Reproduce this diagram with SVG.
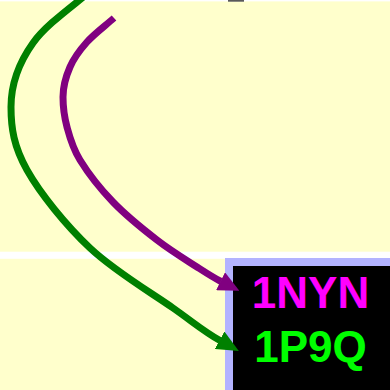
<svg xmlns="http://www.w3.org/2000/svg" width="390" height="390" viewBox="0 0 390 390">
  <style>
    .band { fill: #ffffcc; }
    .link { fill: none; stroke-width: 7; stroke-linecap: butt; stroke-linejoin: round; }
    .label { font-family: "Liberation Sans", Arial, sans-serif; font-weight: bold; font-size: 44px; text-anchor: middle; }
  </style>
  <defs>
    <marker id="head-purple" viewBox="0 0 21 20" markerWidth="21" markerHeight="20" refX="0.5" refY="10" orient="auto" markerUnits="userSpaceOnUse">
      <path d="M0,0 L21,10 L0,20 z" fill="#800080"/>
    </marker>
    <marker id="head-green" viewBox="0 0 22 20" markerWidth="22" markerHeight="20" refX="0.5" refY="10" orient="auto" markerUnits="userSpaceOnUse">
      <path d="M0,0 L22,10 L0,20 z" fill="#008000"/>
    </marker>
  </defs>

  <!-- page background and bands -->
  <rect x="0" y="0" width="390" height="390" fill="#ffffff"/>
  <rect class="band" x="0" y="1.4" width="390" height="250.3"/>
  <rect class="band" x="0" y="258.8" width="390" height="131.2"/>
  <rect x="228" y="0" width="16" height="1.7" fill="#595959"/>

  <!-- target node -->
  <g id="node-target">
    <rect x="229" y="262" width="170" height="140" fill="#000000" stroke="#b3b3ff" stroke-width="8"/>
    <text class="label" x="310.5" y="308.3" fill="#ff00ff">1NYN</text>
    <text class="label" x="310.5" y="362.3" fill="#00ff00">1P9Q</text>
  </g>

  <!-- connectors, drawn over the node border -->
  <g id="links">
    <path class="link" stroke="#008000" marker-end="url(#head-green)"
          d="M100,-17 C77.7,3 47.8,22.3 33,43 C18.2,63.7 11,85.8 11,107 C11,128.2 13.8,146.5 27,170 C40.2,193.5 65.7,225 90,248 C114.3,271 151.3,292.7 173,308 C194.7,323.3 204.3,331.8 220,340.5"/>
    <path class="link" stroke="#800080" marker-end="url(#head-purple)"
          d="M114,18 C105,26 94.3,33.8 87,42 C79.7,50.2 74,57.8 70,67 C66,76.2 63,87 63,97 C63,107 64.2,116.5 67,127 C69.8,137.5 72.3,147.5 80,160 C87.7,172.5 100.2,188.7 113,202 C125.8,215.3 143,229.2 157,240 C171,250.8 186.3,260.1 197,267 C207.7,273.9 213.8,277.9 221,281.5"/>
  </g>
</svg>
